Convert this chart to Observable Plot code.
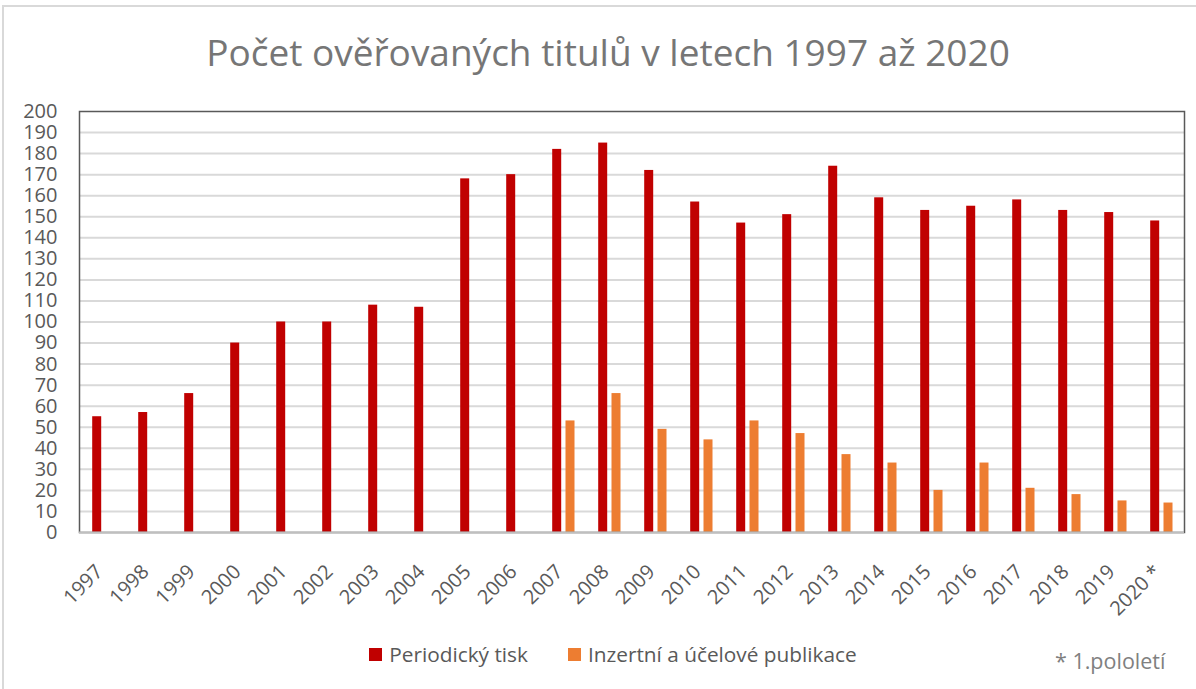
<!DOCTYPE html>
<html>
<head>
<meta charset="utf-8">
<script src="https://cdn.jsdelivr.net/npm/d3@7"></script>
<script src="https://cdn.jsdelivr.net/npm/@observablehq/plot@0.6"></script>
<style>
  html, body { margin: 0; padding: 0; background: #fff; }
  #wrap { position: relative; width: 1196px; height: 689px; overflow: hidden; font-family: "Open Sans", sans-serif; }
  #border { position: absolute; left: 2px; top: 5px; width: 1300px; height: 800px; border-left: 2px solid #d9d9d9; border-top: 2px solid #d9d9d9; }
  #title { position: absolute; left: 10px; top: 26px; width: 1196px; text-align: center; font-size: 37px; color: #767676; white-space: nowrap; }
  #chart { position: absolute; left: 0; top: 80px; }
  #legend { position: absolute; left: 15px; top: 640px; width: 1196px; display: flex; justify-content: center; font-size: 20.8px; color: #595959; }
  .item { display: flex; align-items: center; margin: 0 20px; }
  .sw { width: 13px; height: 13px; margin-right: 7px; }
  #note { position: absolute; left: 1055px; top: 646px; font-size: 21.5px; color: #808080; }
</style>
</head>
<body>
<div id="wrap">
  <div id="border"></div>
  <div id="title">Počet ověřovaných titulů v letech 1997 až 2020</div>
  <div id="chart"></div>
  <div id="legend"></div>
  <div id="note">* 1.pololetí</div>
</div>
<script>
const years = ["1997","1998","1999","2000","2001","2002","2003","2004","2005","2006","2007","2008","2009","2010","2011","2012","2013","2014","2015","2016","2017","2018","2019","2020"];
const yearLabels = ["1997","1998","1999","2000","2001","2002","2003","2004","2005","2006","2007","2008","2009","2010","2011","2012","2013","2014","2015","2016","2017","2018","2019","2020 *"];
const periodicky = [55,57,66,90,100,100,108,107,168,170,182,185,172,157,147,151,174,159,153,155,158,153,152,148];
const inzertni = [null,null,null,null,null,null,null,null,null,null,53,66,49,44,53,47,37,33,20,33,21,18,15,14];
const seriesNames = ["Periodický tisk", "Inzertní a účelové publikace"];
const seriesColors = ["#c00000", "#ed7d31"];
const yTicks = d3.range(0, 201, 10);

const rowsP = years.map((y, i) => ({year: y, value: periodicky[i]}));
const rowsI = years.map((y, i) => ({year: y, value: inzertni[i]})).filter(d => d.value != null);
const labelOf = new Map(years.map((y, i) => [y, yearLabels[i]]));

const chart = Plot.plot({
  width: 1196,
  height: 540,
  marginLeft: 79,
  marginRight: 12,
  marginTop: 31,
  marginBottom: 88,
  style: {fontFamily: "Open Sans, sans-serif", color: "#595959", background: "transparent", overflow: "visible"},
  x: {type: "band", domain: years, padding: 0},
  y: {domain: [0, 200]},
  marks: [
    Plot.gridY(yTicks.filter(t => t > 0 && t < 200), {stroke: "#d9d9d9", strokeOpacity: 1, strokeWidth: 2}),
    Plot.barY(rowsP, {x: "year", y: "value", fill: seriesColors[0], insetLeft: 12.2, insetRight: 24.8}),
    Plot.barY(rowsI, {x: "year", y: "value", fill: seriesColors[1], insetLeft: 25.5, insetRight: 11.5}),
    Plot.frame({stroke: "#595959", strokeWidth: 1.5}),
    Plot.ruleY([0], {stroke: "#bfbfbf", strokeWidth: 2}),
    Plot.axisY({ticks: yTicks, tickSize: 0, tickPadding: 22, fontSize: 20, label: null}),
    Plot.axisX({tickRotate: -45, tickSize: 0, tickPadding: 22, fontSize: 20, dx: -4, dy: 14, label: null, tickFormat: d => labelOf.get(d)})
  ]
});
document.getElementById("chart").appendChild(chart);

const legend = document.getElementById("legend");
seriesNames.forEach((n, i) => {
  const it = document.createElement("div");
  it.className = "item";
  const sw = document.createElement("div");
  sw.className = "sw";
  sw.style.background = seriesColors[i];
  const tx = document.createElement("span");
  tx.textContent = n;
  it.appendChild(sw); it.appendChild(tx);
  legend.appendChild(it);
});
</script>
</body>
</html>
